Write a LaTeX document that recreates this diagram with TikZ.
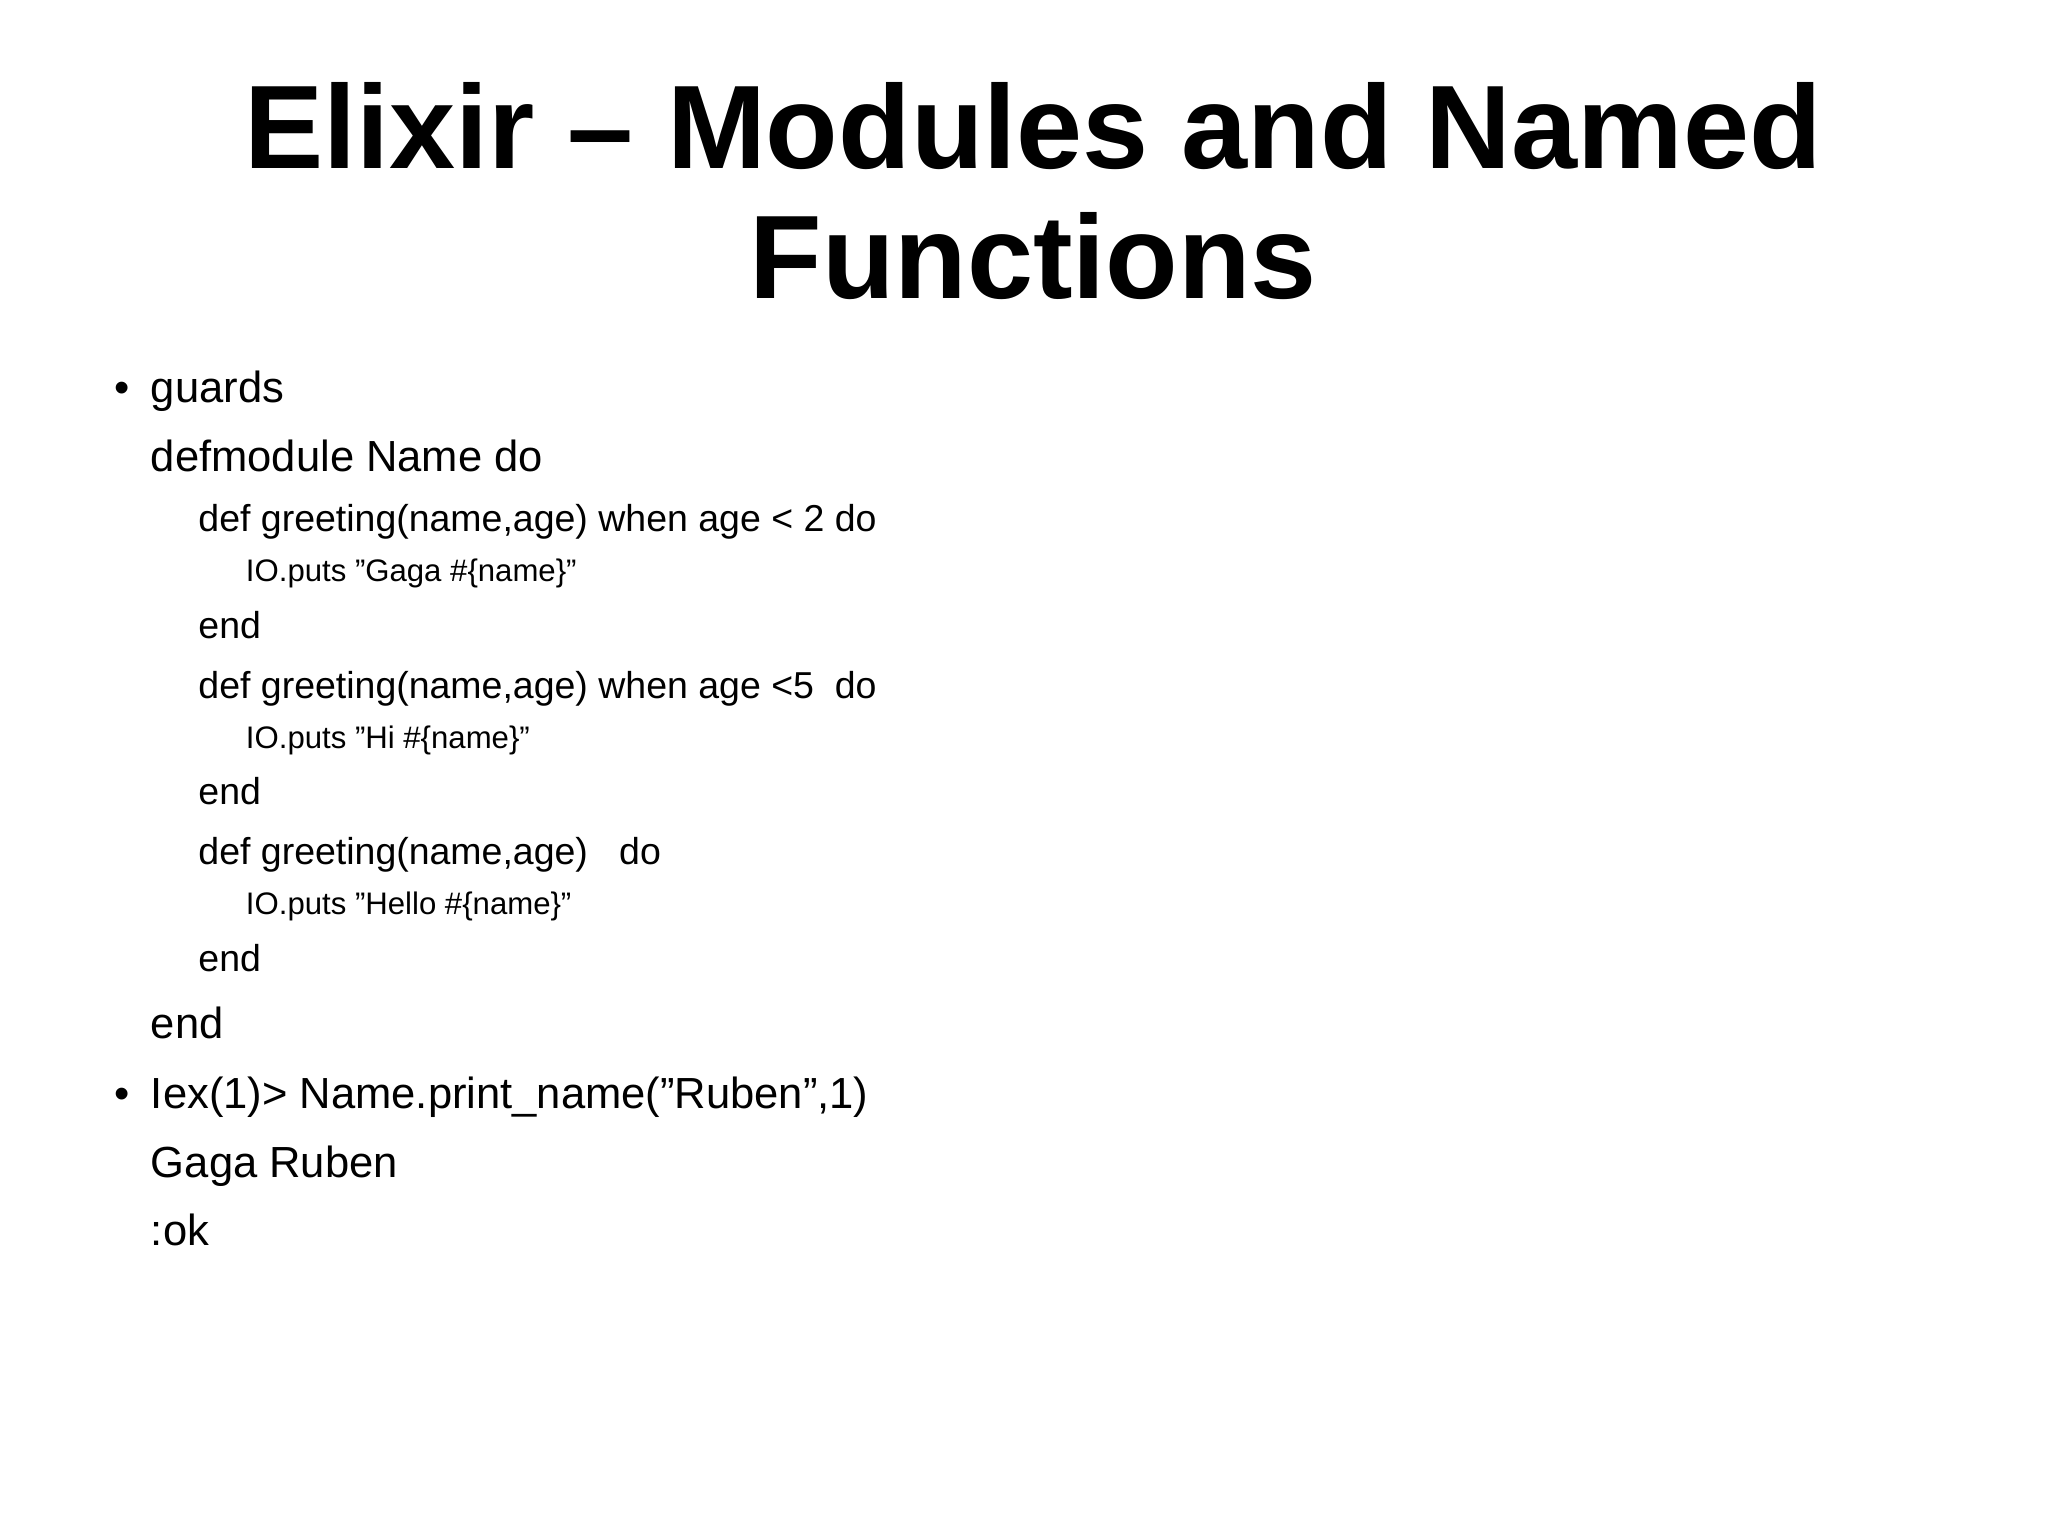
\documentclass[tikz,border=0pt]{standalone}
\usepackage{fontspec}
\setmainfont{Liberation Sans}
\begin{document}
\begin{tikzpicture}[x=0.5pt,y=-0.5pt,
  t/.style={anchor=base west,inner sep=0pt},
  la/.style={t,font=\fontsize{16.5}{18}\selectfont},
  lb/.style={t,font=\fontsize{14.2}{16}\selectfont},
  lc/.style={t,font=\fontsize{11.8}{14}\selectfont},
  ttl/.style={anchor=base,inner sep=0pt,font=\fontsize{45}{50}\selectfont\bfseries}]
\useasboundingbox (0,0) rectangle (1552,1163);
\node[ttl] (t1) at (783,128) {Elixir – Modules and Named};
\node[ttl] (t2) at (783,226) {Functions};
\node[la] (b1) at (86,305) {•};
\node[la] (l1) at (114,305) {guards};
\node[la] (l2) at (114,357) {defmodule Name do};
\node[lb] (l3) at (150,403) {def greeting(name,age) when age < 2 do};
\node[lc] (l4) at (186,441) {IO.puts "Gaga \#\{name\}"};
\node[lb] (l5) at (150,484) {end};
\node[lb] (l6) at (150,529) {def greeting(name,age) when age <5\ \ do};
\node[lc] (l7) at (186,567) {IO.puts "Hi \#\{name\}"};
\node[lb] (l8) at (150,610) {end};
\node[lb] (l9) at (150,655) {def greeting(name,age)\ \ \ do};
\node[lc] (l10) at (186,693) {IO.puts "Hello \#\{name\}"};
\node[lb] (l11) at (150,736) {end};
\node[la] (l12) at (114,787) {end};
\node[la] (b2) at (86,840) {•};
\node[la] (l13) at (114,840) {Iex(1)> Name.print\_name("Ruben",1)};
\node[la] (l14) at (114,892) {Gaga Ruben};
\node[la] (l15) at (114,944) {:ok};
\end{tikzpicture}
\end{document}
